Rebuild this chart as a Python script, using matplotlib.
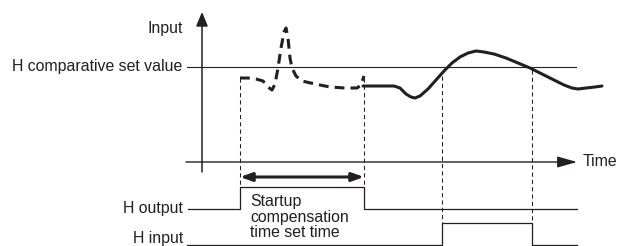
import numpy as np
import matplotlib
matplotlib.use('Agg')
import matplotlib.pyplot as plt

matplotlib.rcParams['font.family'] = 'Liberation Sans'

INK = '#231f20'

# diagram coordinates (x to the right, y downwards, same scale as the picture)
axis_x = 202
axis_top, axis_bottom = 12, 172
time_y = 162
time_x0, time_x1 = 186, 577
setval_y = 67
setval_x0, setval_x1 = 187, 576

# input curve: dashed part during startup compensation, solid part after
dash_x = [240, 248, 256, 263, 268, 272, 275, 278, 281, 284, 286, 288, 290, 292,
          296, 302, 315, 330, 345, 357, 361, 364]
dash_y = [78, 78, 79, 81, 87, 90, 84, 68, 48, 32, 28, 38, 58, 68,
          76, 81, 84, 87, 88, 88, 85, 76]
solid_x = [363, 380, 394, 400, 406, 411, 415, 420, 428, 436, 444, 452, 460, 468,
           476, 484, 494, 506, 518, 530, 542, 554, 564, 572, 578, 586, 595, 602]
solid_y = [86, 86, 86, 88, 94, 97, 98, 96, 89, 80, 71, 63, 57, 53,
           51, 52, 54, 58, 63, 68, 74, 80, 85, 88, 89, 88, 87, 86]

# timing markers
t_start, t_comp_end, t_on, t_off = 240, 364, 442, 532

# output signals (x edges and levels)
hout_x = [188, 240, 240, 364, 364, 577]
hout_y = [209, 209, 187, 187, 209, 209]
hin_x = [187, 442, 442, 532, 532, 577]
hin_y = [245, 245, 223, 223, 245, 245]

fig = plt.figure(figsize=(6.18, 2.46), dpi=100)
ax = fig.add_axes([0, 0, 1, 1])
ax.set_xlim(0, 618)
ax.set_ylim(246, 0)
ax.axis('off')

# axes
ax.annotate('', xy=(axis_x, axis_top), xytext=(axis_x, axis_bottom),
            arrowprops=dict(arrowstyle='-|>,head_length=0.86,head_width=0.36',
                            mutation_scale=10, lw=1.1, color=INK, shrinkA=0, shrinkB=0))
ax.annotate('', xy=(time_x1, time_y), xytext=(time_x0, time_y),
            arrowprops=dict(arrowstyle='-|>,head_length=1.2,head_width=0.34',
                            mutation_scale=10, lw=1.0, color=INK, shrinkA=0, shrinkB=0))
ax.plot([setval_x0, setval_x1], [setval_y, setval_y], color=INK, lw=0.8)

# dashed time markers
ax.plot([t_start, t_start], [78, 187], color=INK, lw=0.75, dashes=(4, 3))
ax.plot([t_comp_end, t_comp_end], [78, 187], color=INK, lw=0.75, dashes=(4, 3))
ax.plot([t_on, t_on], [76, 223], color=INK, lw=0.75, dashes=(4, 3))
ax.plot([t_off, t_off], [70, 223], color=INK, lw=0.75, dashes=(4, 3))

# input curve
ax.plot(dash_x, dash_y, color=INK, lw=2.2, dashes=(3.2, 2.0), solid_joinstyle='round')
ax.plot(solid_x, solid_y, color=INK, lw=2.2, solid_capstyle='round', solid_joinstyle='round')

# output signals
ax.plot(hout_x, hout_y, color=INK, lw=0.9)
ax.plot(hin_x, hin_y, color=INK, lw=0.9)

# startup compensation span
ax.annotate('', xy=(t_start, 177), xytext=(t_comp_end, 177),
            arrowprops=dict(arrowstyle='<|-|>,head_length=0.7,head_width=0.25',
                            mutation_scale=10, lw=2.2, color=INK, shrinkA=0, shrinkB=0))

fs = 11.4
ax.text(183, 28, 'Input', ha='right', va='center', fontsize=fs, color=INK)
ax.text(182, 67, 'H comparative set value', ha='right', va='center', fontsize=fs, color=INK)
ax.text(583, 162, 'Time', ha='left', va='center', fontsize=fs, color=INK)
ax.text(183, 209, 'H output', ha='right', va='center', fontsize=fs, color=INK)
ax.text(183, 245.5, 'H input', ha='right', va='bottom', fontsize=fs, color=INK)
ax.text(250, 194, 'Startup\ncompensation\ntime set time', ha='left', va='top',
        fontsize=fs, color=INK, linespacing=1.05)

fig.savefig('out.png', dpi=100)
